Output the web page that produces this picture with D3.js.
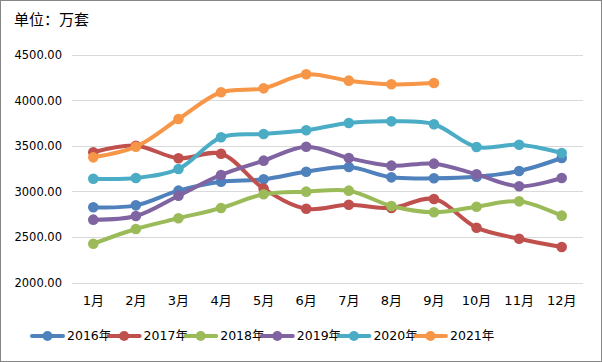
<!DOCTYPE html>
<html><head><meta charset="utf-8">
<script src="https://cdn.jsdelivr.net/npm/d3@7"></script>
<style>body{margin:0;background:#fff}svg{display:block}</style>
</head><body>
<svg id="c" width="602" height="362"></svg>
<script>
const months = ["1月","2月","3月","4月","5月","6月","7月","8月","9月","10月","11月","12月"];
const yTicks = [2000,2500,3000,3500,4000,4500];
const seriesNames = ["2016年","2017年","2018年","2019年","2020年","2021年"];
const s2016 = [2825,2846,3007,3105,3131,3215,3266,3153,3143,3160,3222,3365];
const s2017 = [3428,3500,3362,3412,3029,2809,2853,2817,2916,2601,2480,2389];
const s2018 = [2425,2587,2704,2817,2967,2996,3007,2839,2770,2831,2890,2733];
const s2019 = [2689,2729,2952,3179,3336,3489,3365,3281,3303,3186,3055,3146];
const s2020 = [3138,3146,3245,3592,3628,3669,3749,3767,3735,3486,3511,3420];
const s2021 = [3372,3489,3793,4086,4129,4283,4213,4173,4187];
const colors = ["#4F81BD","#C0504D","#9BBB59","#8064A2","#4BACC6","#F79646"];
const allSeries = [s2016,s2017,s2018,s2019,s2020,s2021];

const svg = d3.select("#c");
const font = "'DejaVu Sans','Noto Sans CJK SC',sans-serif";
svg.append("rect").attr("x",0.5).attr("y",0.5).attr("width",601).attr("height",361)
  .attr("fill","#fff").attr("stroke","#868686");

svg.append("text").attr("x",14).attr("y",25).attr("font-family","'Noto Sans CJK SC',sans-serif")
  .attr("font-size",15).attr("fill","#000").text("单位：万套");

const x = d3.scaleBand().domain(months).range([72,583]);
const y = d3.scaleLinear().domain([2000,4500]).range([282.5,54.5]);

const grid = svg.append("g");
grid.selectAll("line").data(yTicks).join("line")
  .attr("x1",72).attr("x2",583).attr("y1",d=>Math.round(y(d))+0.5).attr("y2",d=>Math.round(y(d))+0.5)
  .attr("stroke","#d9d9d9").attr("stroke-width",1);

const yAxis = svg.append("g").attr("transform","translate(62,0)")
  .call(d3.axisLeft(y).tickValues(yTicks).tickFormat(d3.format(".2f")).tickSize(0).tickPadding(0));
yAxis.select(".domain").remove();
yAxis.selectAll("text").attr("font-family",font).attr("font-size",11.5).attr("fill","#000").attr("dy","0.35em");

const xAxis = svg.append("g").attr("transform","translate(0,300)")
  .call(d3.axisBottom(x).tickSize(0).tickPadding(0));
xAxis.select(".domain").remove();
xAxis.selectAll("text").attr("font-family",font).attr("font-size",13).attr("fill","#000").attr("dy","0.35em");

const cx = (d,i)=>x(months[i])+x.bandwidth()/2;
const line = d3.line().x(cx).y(d=>y(d)).curve(d3.curveCatmullRom.alpha(0.5));

allSeries.forEach((s,k)=>{
  const g = svg.append("g");
  g.append("path").attr("d",line(s)).attr("fill","none").attr("stroke",colors[k])
    .attr("stroke-width",4).attr("stroke-linejoin","round").attr("stroke-linecap","round");
  g.selectAll("circle").data(s).join("circle").attr("cx",cx).attr("cy",d=>y(d))
    .attr("r",5.3).attr("fill",colors[k]);
});

const leg = svg.append("g");
seriesNames.forEach((n,k)=>{
  const x0 = 32 + k*76.6;
  const gy = 336;
  leg.append("line").attr("x1",x0).attr("x2",x0+31).attr("y1",gy).attr("y2",gy)
    .attr("stroke",colors[k]).attr("stroke-width",4).attr("stroke-linecap","round");
  leg.append("circle").attr("cx",x0+15.5).attr("cy",gy).attr("r",5).attr("fill",colors[k]);
  leg.append("text").attr("x",x0+35).attr("y",gy).attr("dy","0.35em")
    .attr("font-family",font).attr("font-size",12.5).attr("fill","#000").text(n);
});
</script>
</body></html>
